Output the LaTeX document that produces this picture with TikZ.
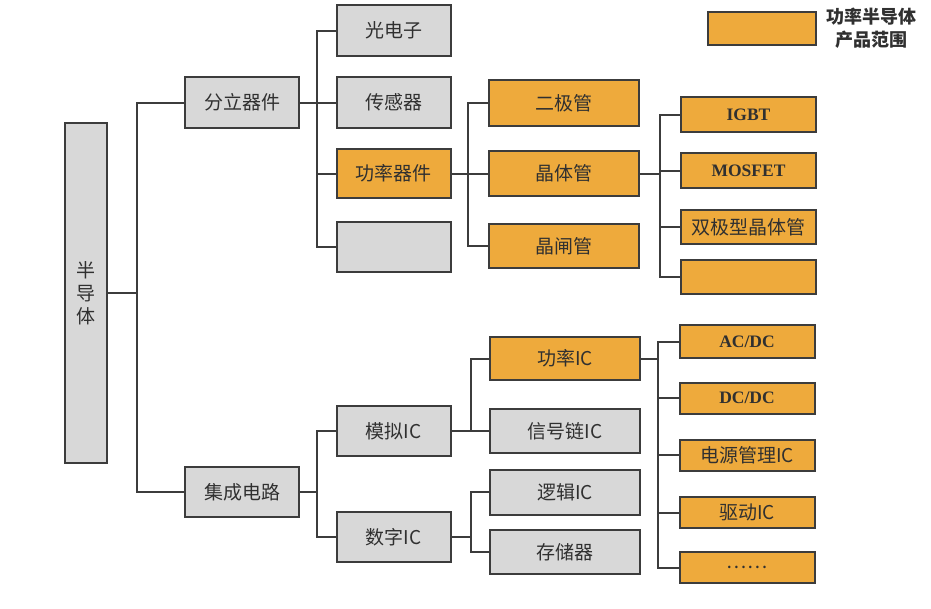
\documentclass[tikz,border=0pt]{standalone}
\usepackage{fontspec}
\setmainfont{Liberation Serif}
\newfontfamily\cjk{Noto Sans CJK SC}
\definecolor{gfill}{RGB}{216,216,216}
\definecolor{ofill}{RGB}{238,170,60}
\definecolor{edge}{RGB}{60,60,60}
\definecolor{txt}{RGB}{48,48,48}
\begin{document}
\begin{tikzpicture}[x=1pt,y=-1pt,
  base/.style={draw=edge,line width=2pt,inner sep=0pt,text=txt,font=\cjk\fontsize{19}{23}\selectfont},
  gbox/.style={base,fill=gfill},
  obox/.style={base,fill=ofill},
  latin/.style={font=\bfseries\fontsize{17.5}{20}\selectfont},
  c2/.style={minimum width=114pt,minimum height=50pt},
  c3/.style={minimum width=150pt},
  c4/.style={minimum width=135pt},
  conn/.style={draw=edge,line width=2pt}]
\fill[white] (0,0) rectangle (931,608);
\useasboundingbox (0,0) rectangle (931,608);

% trunk x positions
\coordinate (t1) at (137,0);
\coordinate (t2) at (317,0);
\coordinate (t4) at (468,0);
\coordinate (t5) at (660,0);
\coordinate (t6) at (471,0);
\coordinate (t8) at (658,0);

% level 0
\node[gbox,minimum width=42pt,minimum height=340pt,align=center] (bdt) at (86,293) {半\\导\\体};
% level 1
\node[gbox,c2,minimum height=51pt] (fenli) at (242,102.5) {分立器件};
\node[gbox,c2] (jc) at (242,492) {集成电路};
% level 2
\node[gbox,c2,minimum height=51pt] (guang) at (393.5,30.5) {光电子};
\node[gbox,c2,minimum height=51pt] (chuan) at (393.5,102.5) {传感器};
\node[obox,c2,minimum height=49pt] (gonglv) at (393.5,173.5) {功率器件};
\node[gbox,c2] (d4) at (393.5,247) {};
\node[gbox,c2] (moni) at (393.5,431) {模拟IC};
\node[gbox,c2] (shuzi) at (393.5,537) {数字IC};
% level 3
\node[obox,c3,minimum height=46pt] (erji) at (564,103) {二极管};
\node[obox,c3,minimum height=45pt] (jingti) at (564,173.5) {晶体管};
\node[obox,c3,minimum height=44pt] (zha) at (564,246) {晶闸管};
\node[obox,c3,minimum height=43pt] (glic) at (565,358.5) {功率IC};
\node[gbox,c3,minimum height=44pt] (xinhao) at (565,431) {信号链IC};
\node[gbox,c3,minimum height=45pt] (luoji) at (565,492) {逻辑IC};
\node[gbox,c3,minimum height=44pt] (cunchu) at (565,552) {存储器};
% level 4
\node[obox,c4,minimum height=35pt,latin] (igbt) at (748.5,114.5) {IGBT};
\node[obox,c4,minimum height=35pt,latin] (mosfet) at (748.5,170.5) {MOSFET};
\node[obox,c4,minimum height=34pt] (shuang) at (748.5,227) {双极型晶体管};
\node[obox,c4,minimum height=34pt] (e4) at (748.5,277) {};
\node[obox,c4,minimum height=33pt,latin] (acdc) at (747,341.5) {AC/DC};
\node[obox,c4,minimum height=31pt,latin] (dcdc) at (747,398) {DC/DC};
\node[obox,c4,minimum height=31pt] (dygl) at (747,455) {电源管理IC};
\node[obox,c4,minimum height=31pt] (qudong) at (747,512.5) {驱动IC};
\node[obox,c4,minimum height=31pt] (qita) at (747,567.5) {……};

% legend
\node[obox,minimum width=108pt,minimum height=33pt] (leg) at (762,28.5) {};
\node[inner sep=0pt,align=center,text=txt,font=\cjk\bfseries\fontsize{18}{23}\selectfont] (legt) at (871,28) {功率半导体\\产品范围};

% connectors
\draw[conn] (fenli.west) -| (t1 |- jc.west) -- (jc.west);
\draw[conn] (bdt.east) -- (bdt.east -| t1);

\draw[conn] (guang.west) -| (t2 |- d4.west) -- (d4.west);
\draw[conn] (fenli.east) -- (chuan.west);
\draw[conn] (gonglv.west) -- (gonglv.west -| t2);

\draw[conn] (moni.west) -| (t2 |- shuzi.west) -- (shuzi.west);
\draw[conn] (jc.east) -- (jc.east -| t2);

\draw[conn] (erji.west) -| (t4 |- zha.west) -- (zha.west);
\draw[conn] (gonglv.east) -- (jingti.west);

\draw[conn] (igbt.west) -| (t5 |- e4.west) -- (e4.west);
\draw[conn] (jingti.east) -- (jingti.east -| t5);
\draw[conn] (mosfet.west) -- (mosfet.west -| t5);
\draw[conn] (shuang.west) -- (shuang.west -| t5);

\draw[conn] (glic.west) -| (t6 |- xinhao.west) -- (xinhao.west);
\draw[conn] (moni.east) -- (xinhao.west);

\draw[conn] (luoji.west) -| (t6 |- cunchu.west) -- (cunchu.west);
\draw[conn] (shuzi.east) -- (shuzi.east -| t6);

\draw[conn] (acdc.west) -| (t8 |- qita.west) -- (qita.west);
\draw[conn] (glic.east) -- (glic.east -| t8);
\draw[conn] (dcdc.west) -- (dcdc.west -| t8);
\draw[conn] (dygl.west) -- (dygl.west -| t8);
\draw[conn] (qudong.west) -- (qudong.west -| t8);
\end{tikzpicture}
\end{document}
